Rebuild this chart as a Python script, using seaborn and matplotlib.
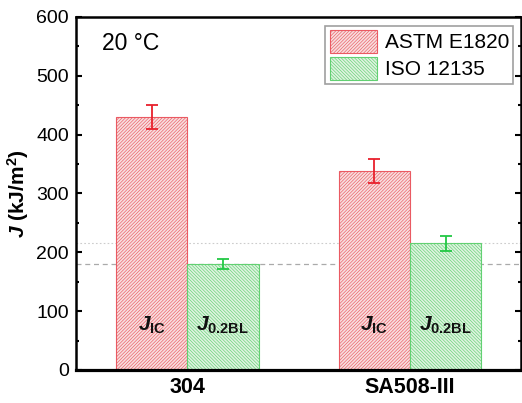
import numpy as np
import pandas as pd
import seaborn as sns
import matplotlib.pyplot as plt

sns.set_style("ticks")
plt.rcParams["font.family"] = ["Liberation Sans", "DejaVu Sans"]
plt.rcParams["mathtext.fontset"] = "custom"
plt.rcParams["mathtext.rm"] = "Liberation Sans:bold"
plt.rcParams["mathtext.it"] = "Liberation Sans:italic:bold"
plt.rcParams["mathtext.bf"] = "Liberation Sans:bold"
plt.rcParams["hatch.linewidth"] = 0.45
plt.rcParams["text.color"] = "black"
plt.rcParams["axes.labelcolor"] = "black"
plt.rcParams["xtick.color"] = "black"
plt.rcParams["ytick.color"] = "black"
plt.rcParams["axes.edgecolor"] = "black"

materials = ["304", "SA508-III"]
standards = ["ASTM E1820", "ISO 12135"]
astm_j = [430, 338]
astm_err = [20, 20]
iso_j = [180, 215]
iso_err = [8, 12]
bar_labels = [r"$J_{\mathrm{IC}}$", r"$J_{\mathrm{0.2BL}}$"]

df = pd.DataFrame({
    "Material": materials * 2,
    "Standard": np.repeat(standards, len(materials)),
    "J": astm_j + iso_j,
    "err": astm_err + iso_err,
})

fills = ["#fcdada", "#dbf6dd"]
edges = ["#ea5a62", "#62d072"]
errc = ["#e8202c", "#22c844"]
hatches = ["/" * 10, "\\" * 10]

fig = plt.figure(figsize=(5.22, 4.03), dpi=100)
ax = fig.add_axes([0.1456, 0.082, 0.853, 0.876])

sns.barplot(data=df, x="Material", y="J", hue="Standard", hue_order=standards,
            palette=fills, width=0.64, errorbar=None, ax=ax, legend=False)

bars = list(ax.containers)
for i, cont in enumerate(bars):
    sub = df[df["Standard"] == standards[i]]
    xs, ys = [], []
    for bar in cont:
        bar.set_edgecolor(edges[i])
        bar.set_hatch(hatches[i])
        bar.set_linewidth(0.8)
        xs.append(bar.get_x() + bar.get_width() / 2)
        ys.append(bar.get_height())
        ax.text(xs[-1], 75, bar_labels[i], ha="center", va="center", fontsize=15, color="#111111")
    ax.errorbar(xs, ys, yerr=sub["err"].values, fmt="none", ecolor=errc[i],
                elinewidth=1.3, capsize=4, capthick=1.3, zorder=5)

ax.axhline(iso_j[0], color="#aaaaaa", ls=(0, (4, 3)), lw=0.9, zorder=0.5)
ax.axhline(iso_j[1], color="#cccccc", ls=(0, (1.5, 2)), lw=0.8, zorder=0.5)

ax.set_ylim(0, 600)
ax.set_xlim(-0.5, 1.5)
ax.set_yticks(range(0, 601, 100))
ax.set_yticks(range(50, 600, 100), minor=True)
ax.tick_params(axis="y", which="both", direction="in", right=True, labelsize=14, width=1.5, pad=5)
ax.tick_params(axis="y", which="major", length=4)
ax.tick_params(axis="y", which="minor", length=2.5)
ax.tick_params(axis="x", length=0, labelsize=15.5, pad=5)
for lab in ax.get_xticklabels():
    lab.set_fontweight("bold")
for s in ax.spines.values():
    s.set_linewidth(1.8)
ax.spines["bottom"].set_linewidth(2.3)

ax.set_xlabel("")
ax.set_ylabel(r"$J$ (kJ/m$^{2}$)", fontsize=15, fontweight="bold", labelpad=4)
ax.text(0.058, 0.905, "20 °C", transform=ax.transAxes, fontsize=16.5)

leg = ax.legend(bars, standards, loc="upper right", bbox_to_anchor=(0.982, 0.975),
                fontsize=15, frameon=True, fancybox=False, edgecolor="#888888",
                handlelength=2.3, handleheight=1.3, borderpad=0.2, labelspacing=0.2,
                handletextpad=0.35, borderaxespad=0)
leg.get_frame().set_linewidth(1.2)

fig.savefig("out.png", dpi=100)
